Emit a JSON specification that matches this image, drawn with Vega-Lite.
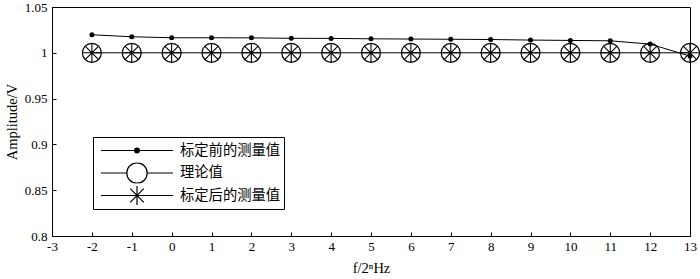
{
  "$schema": "https://vega.github.io/schema/vega-lite/v6.json",
  "width": 638,
  "height": 229,
  "autosize": {"type": "none"},
  "padding": {"left": 52, "top": 7, "right": 10, "bottom": 43},
  "background": "white",
  "config": {
    "view": {"stroke": "black", "strokeWidth": 1},
    "axis": {
      "domainColor": "black",
      "domainWidth": 1,
      "tickColor": "black",
      "tickSize": -4,
      "grid": false,
      "labelFont": "Liberation Serif",
      "labelFontSize": 13,
      "labelColor": "black",
      "titleFont": "Liberation Serif",
      "titleFontSize": 14.5,
      "titleFontWeight": "normal",
      "titleColor": "black"
    },
    "legend": {
      "orient": "none",
      "legendX": 41,
      "legendY": 130,
      "strokeColor": "black",
      "fillColor": "white",
      "padding": 3,
      "symbolSize": 6400,
      "clipHeight": 21,
      "rowPadding": 1.5,
      "labelOffset": 2,
      "labelFont": "Noto Sans CJK SC",
      "labelFontSize": 14.3,
      "labelColor": "black",
      "symbolStrokeColor": "black",
      "symbolStrokeWidth": 1.2,
      "symbolFillColor": "transparent",
      "symbolOpacity": 1
    }
  },
  "data": {
    "values": [
      {"n": -2, "series": "标定前的测量值", "value": 1.0197},
      {"n": -1, "series": "标定前的测量值", "value": 1.0175},
      {"n": 0, "series": "标定前的测量值", "value": 1.0164},
      {"n": 1, "series": "标定前的测量值", "value": 1.0164},
      {"n": 2, "series": "标定前的测量值", "value": 1.0163},
      {"n": 3, "series": "标定前的测量值", "value": 1.0158},
      {"n": 4, "series": "标定前的测量值", "value": 1.0157},
      {"n": 5, "series": "标定前的测量值", "value": 1.0153},
      {"n": 6, "series": "标定前的测量值", "value": 1.015},
      {"n": 7, "series": "标定前的测量值", "value": 1.0148},
      {"n": 8, "series": "标定前的测量值", "value": 1.0145},
      {"n": 9, "series": "标定前的测量值", "value": 1.0139},
      {"n": 10, "series": "标定前的测量值", "value": 1.0135},
      {"n": 11, "series": "标定前的测量值", "value": 1.0131},
      {"n": 12, "series": "标定前的测量值", "value": 1.0095},
      {"n": 13, "series": "标定前的测量值", "value": 0.9964},
      {"n": -2, "series": "理论值", "value": 1},
      {"n": -1, "series": "理论值", "value": 1},
      {"n": 0, "series": "理论值", "value": 1},
      {"n": 1, "series": "理论值", "value": 1},
      {"n": 2, "series": "理论值", "value": 1},
      {"n": 3, "series": "理论值", "value": 1},
      {"n": 4, "series": "理论值", "value": 1},
      {"n": 5, "series": "理论值", "value": 1},
      {"n": 6, "series": "理论值", "value": 1},
      {"n": 7, "series": "理论值", "value": 1},
      {"n": 8, "series": "理论值", "value": 1},
      {"n": 9, "series": "理论值", "value": 1},
      {"n": 10, "series": "理论值", "value": 1},
      {"n": 11, "series": "理论值", "value": 1},
      {"n": 12, "series": "理论值", "value": 1},
      {"n": 13, "series": "理论值", "value": 1},
      {"n": -2, "series": "标定后的测量值", "value": 1},
      {"n": -1, "series": "标定后的测量值", "value": 1},
      {"n": 0, "series": "标定后的测量值", "value": 1},
      {"n": 1, "series": "标定后的测量值", "value": 1},
      {"n": 2, "series": "标定后的测量值", "value": 1},
      {"n": 3, "series": "标定后的测量值", "value": 1},
      {"n": 4, "series": "标定后的测量值", "value": 1},
      {"n": 5, "series": "标定后的测量值", "value": 1},
      {"n": 6, "series": "标定后的测量值", "value": 1},
      {"n": 7, "series": "标定后的测量值", "value": 1},
      {"n": 8, "series": "标定后的测量值", "value": 1},
      {"n": 9, "series": "标定后的测量值", "value": 1},
      {"n": 10, "series": "标定后的测量值", "value": 1},
      {"n": 11, "series": "标定后的测量值", "value": 1},
      {"n": 12, "series": "标定后的测量值", "value": 1},
      {"n": 13, "series": "标定后的测量值", "value": 1}
    ]
  },
  "encoding": {
    "x": {
      "field": "n",
      "type": "quantitative",
      "scale": {"domain": [-3, 13], "nice": false},
      "axis": {
        "title": "f/2ⁿHz",
        "values": [-3, -2, -1, 0, 1, 2, 3, 4, 5, 6, 7, 8, 9, 10, 11, 12, 13],
        "labelExpr": "'' + datum.value",
        "labelPadding": 8,
        "titlePadding": 8,
        "labelFlush": false,
        "labelOverlap": false
      }
    },
    "y": {
      "field": "value",
      "type": "quantitative",
      "scale": {"domain": [0.8, 1.05], "nice": false, "zero": false},
      "axis": {
        "title": "Amplitude/V",
        "values": [0.8, 0.85, 0.9, 0.95, 1, 1.05],
        "labelExpr": "'' + datum.value",
        "labelPadding": 9,
        "titlePadding": 5,
        "labelFlush": false,
        "labelOverlap": false
      }
    }
  },
  "layer": [
    {
      "transform": [{"filter": "datum.series === '理论值'"}],
      "mark": {"type": "line", "color": "black", "strokeWidth": 1}
    },
    {
      "transform": [{"filter": "datum.series === '理论值'"}],
      "mark": {"type": "point", "shape": "circle", "size": 361, "filled": false, "color": "black", "strokeWidth": 1.2, "opacity": 1}
    },
    {
      "transform": [{"filter": "datum.series === '标定后的测量值'"}],
      "mark": {"type": "point", "shape": "M0,-1L0,1M-1,0L1,0M-0.71,-0.71L0.71,0.71M-0.71,0.71L0.71,-0.71", "size": 361, "filled": false, "color": "black", "strokeWidth": 1.1, "opacity": 1}
    },
    {
      "transform": [{"filter": "datum.series === '标定前的测量值'"}],
      "mark": {"type": "line", "color": "black", "strokeWidth": 1}
    },
    {
      "transform": [{"filter": "datum.series === '标定前的测量值'"}],
      "mark": {"type": "point", "shape": "circle", "size": 25, "filled": true, "color": "black", "opacity": 1}
    },
    {
      "mark": {"type": "point", "filled": false, "opacity": 0},
      "encoding": {
        "shape": {
          "field": "series",
          "type": "nominal",
          "scale": {
            "domain": ["标定前的测量值", "理论值", "标定后的测量值"],
            "range": [
              "M-0.9,0L0.9,0M0.06,0A0.06,0.06 0 1,1 -0.06,0A0.06,0.06 0 1,1 0.06,0M0.035,0A0.035,0.035 0 1,1 -0.035,0A0.035,0.035 0 1,1 0.035,0M0.012,0A0.012,0.012 0 1,1 -0.012,0A0.012,0.012 0 1,1 0.012,0",
              "M-0.9,0L-0.255,0M0.255,0L0.9,0M0.255,0A0.255,0.255 0 1,1 -0.255,0A0.255,0.255 0 1,1 0.255,0",
              "M-0.9,0L0.9,0M0,-0.24L0,0.24M-0.17,-0.17L0.17,0.17M-0.17,0.17L0.17,-0.17"
            ]
          },
          "legend": {"title": null}
        }
      }
    }
  ]
}
